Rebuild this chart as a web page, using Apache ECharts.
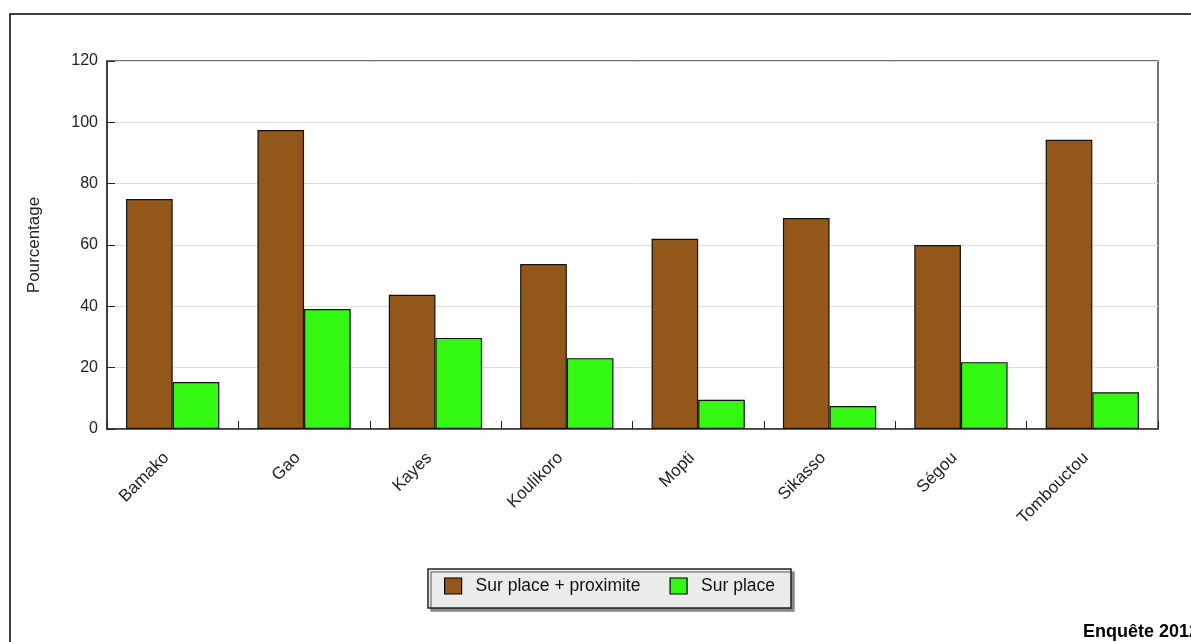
<!DOCTYPE html>
<html><head><meta charset="utf-8">
<script src="https://cdn.jsdelivr.net/npm/echarts@6/dist/echarts.min.js"></script>
<style>html,body{margin:0;padding:0;background:#fff;}#c{width:1191px;height:642px;}</style>
</head><body><div id="c"></div>
<script>
const categories = ['Bamako','Gao','Kayes','Koulikoro','Mopti','Sikasso','Ségou','Tombouctou'];
const surPlaceProximite = [75, 97.5, 43.8, 53.8, 62, 68.8, 60, 94.3];
const surPlace = [15.3, 39.1, 29.7, 23.1, 9.5, 7.5, 21.8, 12];
const yTicks = {min: 0, max: 120, interval: 20};

const chart = echarts.init(document.getElementById('c'));
const font = 'Liberation Sans, Arial, sans-serif';
chart.setOption({
  animation: false,
  backgroundColor: '#fff',
  textStyle: {fontFamily: font},
  graphic: [
    {type: 'rect', shape: {x: 10, y: 14, width: 1250, height: 700}, style: {fill: 'none', stroke: '#000', lineWidth: 1.5}, z: 100},
    {type: 'text', left: 1083, top: 623, style: {text: 'Enquête 2012', font: 'bold 18px ' + font, fill: '#000'}}
  ],
  legend: {
    left: 428, top: 569,
    icon: 'rect',
    itemWidth: 17, itemHeight: 16, itemGap: 29,
    padding: [8, 16, 13, 16],
    backgroundColor: '#ebebeb',
    borderColor: '#222', borderWidth: 1.5,
    shadowColor: '#888', shadowBlur: 0, shadowOffsetX: 3, shadowOffsetY: 3,
    textStyle: {fontSize: 17.5, color: '#111', fontFamily: font, padding: [0, 0, 0, 9]},
    itemStyle: {borderColor: '#000', borderWidth: 1.2},
    data: ['Sur place + proximite', 'Sur place']
  },
  grid: {left: 107, right: 33, top: 61, bottom: 213, show: true, borderColor: '#444', borderWidth: 1.5},
  xAxis: {
    type: 'category', data: categories,
    axisLine: {lineStyle: {color: '#333', width: 1.5}},
    axisTick: {show: true, inside: true, length: 8, lineStyle: {color: '#222'}},
    axisLabel: {rotate: 45, fontSize: 17, color: '#222', margin: 20, padding: [0, 9, 0, 0], fontFamily: font},
    splitLine: {show: false}
  },
  yAxis: {
    type: 'value', min: yTicks.min, max: yTicks.max, interval: yTicks.interval,
    name: 'Pourcentage', nameLocation: 'middle', nameGap: 64,
    nameTextStyle: {fontSize: 17, color: '#222', fontFamily: font},
    axisLine: {show: true, lineStyle: {color: '#333', width: 1.5}},
    axisTick: {show: true, inside: true, length: 8, lineStyle: {color: '#222'}},
    axisLabel: {fontSize: 16, color: '#222', margin: 9, fontFamily: font},
    splitLine: {show: true, lineStyle: {color: '#ddd'}}
  },
  series: [
    {name: 'Sur place + proximite', type: 'bar', data: surPlaceProximite, barWidth: '35.5%', barGap: '0%',
     itemStyle: {color: '#94571a', borderColor: '#111', borderWidth: 1.2}},
    {name: 'Sur place', type: 'bar', data: surPlace, barWidth: '35.5%',
     itemStyle: {color: '#33f912', borderColor: '#111', borderWidth: 1.2}}
  ]
});
</script></body></html>
